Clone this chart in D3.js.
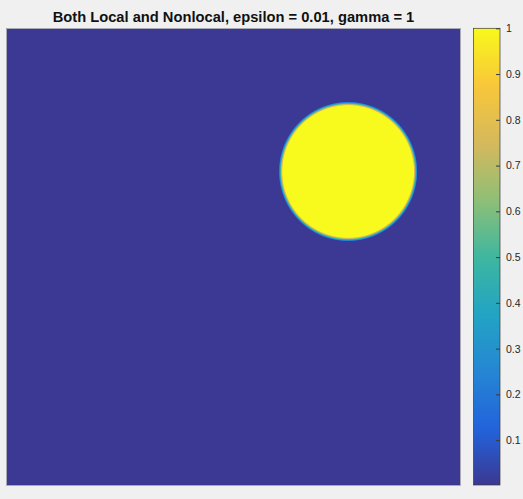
<!DOCTYPE html>
<html><head><meta charset="utf-8">
<script src="https://cdn.jsdelivr.net/npm/d3@7"></script>
<style>html,body{margin:0;padding:0;background:#f0f0f0;}svg{display:block;}</style>
</head><body>
<script>
// ---- data ----
const titleText = "Both Local and Nonlocal, epsilon = 0.01, gamma = 1";
const xDomain = [0, 1];
const yDomain = [0, 1];
const circleCenter = [0.753, 0.6875];
const circleRadius = [0.149];
const insideValue = 1;
const outsideValue = 0.005;
const colorLimits = [0.002, 1];
const colorTicks = [0.1, 0.2, 0.3, 0.4, 0.5, 0.6, 0.7, 0.8, 0.9, 1];
// parula anchor colours
const parulaStops = [0, 0.125, 0.25, 0.375, 0.5, 0.625, 0.75, 0.875, 1];
const parulaColors = ["#3c3790", "#2263dc", "#2586d3", "#22a4c4", "#3eb79f", "#8fbf76", "#d6b95c", "#f8c73a", "#f8f91c"];

const W = 523, H = 499;
const svg = d3.select("body").append("svg").attr("width", W).attr("height", H);
svg.append("rect").attr("width", W).attr("height", H).attr("fill", "#f0f0f0");

const plot = {x0: 7, x1: 460, y0: 29, y1: 485};
const x = d3.scaleLinear().domain(xDomain).range([plot.x0, plot.x1]);
const y = d3.scaleLinear().domain(yDomain).range([plot.y1, plot.y0]);
const color = d3.scaleLinear().domain(parulaStops).range(parulaColors).interpolate(d3.interpolateRgb);

const defs = svg.append("defs");

// field background
svg.append("rect")
  .attr("x", x(xDomain[0])).attr("y", y(yDomain[1]))
  .attr("width", x(xDomain[1]) - x(xDomain[0]))
  .attr("height", y(yDomain[0]) - y(yDomain[1]))
  .attr("fill", color(outsideValue));

// circle with thin interface
const rx = x(circleRadius[0]) - x(0);
const ry = y(0) - y(circleRadius[0]);
const edge = 2.0;
const grad = defs.append("radialGradient").attr("id", "edge")
  .attr("cx", "50%").attr("cy", "50%").attr("r", "50%");
const outer = rx + edge;
const nSteps = 12;
d3.range(nSteps + 1).forEach(i => {
  const t = i / nSteps;
  const rr = rx - edge + 2 * edge * t;
  const v = insideValue + (outsideValue - insideValue) * t;
  grad.append("stop").attr("offset", (rr / outer * 100) + "%").attr("stop-color", color(v));
});
svg.append("ellipse")
  .attr("cx", x(circleCenter[0])).attr("cy", y(circleCenter[1]))
  .attr("rx", rx + edge).attr("ry", ry + edge * ry / rx)
  .attr("fill", "url(#edge)");

// plot border
svg.append("rect")
  .attr("x", plot.x0 - 0.5).attr("y", plot.y0 - 0.5)
  .attr("width", plot.x1 - plot.x0 + 1).attr("height", plot.y1 - plot.y0 + 1)
  .attr("fill", "none").attr("stroke", "#9a9aa8").attr("stroke-width", 0.8);

// title
svg.append("text")
  .attr("x", (plot.x0 + plot.x1) / 2).attr("y", 21.5)
  .attr("text-anchor", "middle")
  .attr("font-family", "Liberation Sans, Arial, sans-serif")
  .attr("font-weight", "bold").attr("font-size", 14.7)
  .attr("fill", "#111").text(titleText);

// colorbar
const cb = {x0: 473.5, x1: 500, y0: 28.3, y1: 485};
const cy = d3.scaleLinear().domain(colorLimits).range([cb.y1, cb.y0]);
const cbGrad = defs.append("linearGradient").attr("id", "cbg")
  .attr("x1", 0).attr("y1", 1).attr("x2", 0).attr("y2", 0);
d3.range(0, 1.0001, 0.02).forEach(t => {
  const v = colorLimits[0] + (colorLimits[1] - colorLimits[0]) * t;
  cbGrad.append("stop").attr("offset", (t * 100) + "%").attr("stop-color", color(v));
});
svg.append("rect")
  .attr("x", cb.x0).attr("y", cb.y0).attr("width", cb.x1 - cb.x0).attr("height", cb.y1 - cb.y0)
  .attr("fill", "url(#cbg)").attr("stroke", "#3a3a3a").attr("stroke-width", 0.7);

const axis = d3.axisRight(cy).tickValues(colorTicks).tickFormat(d3.format("~g"))
  .tickSizeInner(-4).tickSizeOuter(0).tickPadding(6);
const g = svg.append("g").attr("transform", `translate(${cb.x1},0)`).call(axis);
g.select(".domain").remove();
g.selectAll(".tick line").attr("stroke", "#3a3a3a");
g.selectAll(".tick text").attr("font-family", "Liberation Sans, Arial, sans-serif")
  .attr("font-size", 10.5).attr("fill", "#262626");
</script>
</body></html>
